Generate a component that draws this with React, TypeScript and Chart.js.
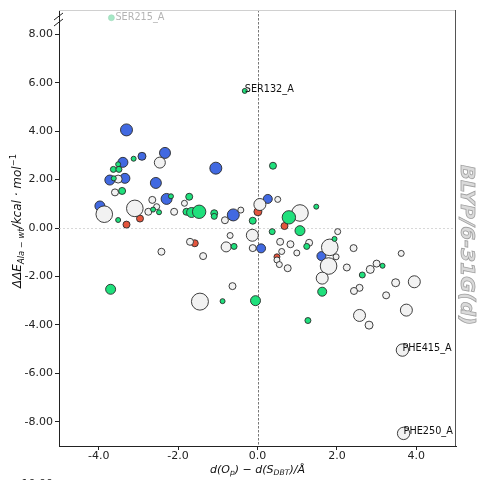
import React, { useEffect, useRef } from 'react';
import { Chart, registerables } from 'chart.js';

Chart.register(...registerables);

const FONT = '"DejaVu Sans", sans-serif';

// Axes
const xRange = [-5, 5];
const yRange = [-9, 9];
const xTicks = [-4, -2, 0, 2, 4];
const yTicks = [-8, -6, -4, -2, 0, 2, 4, 6, 8];

// Residues by class: x = d(Op) - d(S_DBT) in Å, y = ΔΔE in kcal/mol, w = bubble weight
const blueX = [-3.30, -2.33, -2.91, -3.39, -3.72, -3.34, -2.56, -2.29, -3.97, -1.05, -0.61, 0.26, 0.09, 1.61];
const blueY = [4.05, 3.10, 2.96, 2.71, 1.98, 2.05, 1.86, 1.20, 0.91, 2.47, 0.54, 1.20, -0.84, -1.16];
const blueW = [6, 5.5, 4, 5, 5, 5, 5.5, 5.5, 5, 6, 6, 4.5, 4.5, 4.5];

const redX = [-3.30, -2.96, -1.58, 0.01, 0.68, 0.49];
const redY = [0.14, 0.39, -0.63, 0.67, 0.08, -1.19];
const redW = [3.5, 3.5, 3.5, 4, 3.5, 3];

const greenX = [-3.12, -3.51, -3.63, -3.49, -3.62, -3.41, -2.18, -2.63, -2.48, -3.51,
  -1.72, -1.79, -1.66, -1.47, -1.09, -1.09, -0.12, 0.39, 0.37, -0.59,
  -3.70, -0.88, -0.05, 0.79, 1.07, 1.48, 1.24, 1.94, 2.64, 3.15, 1.63, 1.27];
const greenY = [2.86, 2.63, 2.42, 2.42, 2.05, 1.53, 1.31, 0.76, 0.65, 0.33,
  1.29, 0.67, 0.64, 0.67, 0.61, 0.48, 0.30, 2.57, -0.15, -0.76,
  -2.53, -3.02, -3.00, 0.44, -0.11, 0.88, -0.76, -0.45, -1.94, -1.56, -2.63, -3.82];
const greenW = [2.5, 2.5, 3, 3, 2.5, 3.5, 2.5, 2.5, 2.5, 2.5,
  3.5, 3.5, 5, 6.7, 3.5, 3, 3.5, 3.5, 3, 3,
  5, 2.5, 5, 6.7, 5, 2.5, 3, 2.5, 3, 2.5, 4.5, 3];

const whiteX = [-2.46, -3.51, -3.59, -2.65, -3.09, -2.75, -2.54, -2.10, -3.86, -1.84,
  -0.82, -0.42, 0.06, 0.51, -1.70, -2.42, -1.37, -0.69, -0.79, -0.13,
  -0.12, -0.63, -1.45, 1.07, 2.02, 0.57, 0.83, 1.30, 1.82, 2.42,
  0.61, 0.49, 0.55, 0.99, 1.98, 1.79, 0.76, 2.25, 2.84, 3.00,
  3.62, 1.63, 2.57, 2.43, 3.48, 3.95, 3.24, 2.57, 2.81, 3.75];
const whiteY = [2.70, 2.02, 1.47, 1.16, 0.81, 0.67, 0.88, 0.67, 0.57, 1.02,
  0.32, 0.74, 0.97, 1.18, -0.57, -0.98, -1.16, -0.31, -0.78, -0.30,
  -0.83, -2.40, -3.04, 0.62, -0.15, -0.57, -0.67, -0.61, -0.80, -0.83,
  -0.97, -1.32, -1.51, -1.03, -1.19, -1.57, -1.66, -1.63, -1.71, -1.47,
  -1.05, -2.07, -2.47, -2.60, -2.26, -2.22, -2.78, -3.61, -4.01, -3.39];
const whiteW = [5.5, 4, 3.5, 3.5, 8.3, 3.5, 3, 3.5, 8.3, 3,
  3.5, 3, 6, 3, 3.5, 3.5, 3.5, 3, 5, 6,
  3.5, 3.5, 8.5, 8.3, 3, 3.5, 3.5, 3.5, 8.3, 3.5,
  3, 3, 3, 3, 3, 8.3, 3.5, 3.5, 4, 3.5,
  3, 6, 3.5, 3.5, 4, 6, 3.5, 6, 4, 6];

// Named residues
const labelledNames = ['SER132_A', 'PHE415_A', 'PHE250_A'];
const labelledX = [-0.32, 3.65, 3.68];
const labelledY = [5.66, -5.04, -8.48];
const labelledW = [2.5, 6.2, 6.2];
const labelledGroup = ['green', 'white', 'white'];

// Residue above the axis break, shown faded
const brokenNames = ['SER215_A'];
const brokenX = [-3.68];
const brokenY = [8.68];
const brokenW = [3];

const groupStyle: Record<string, { fill: string; order: number }> = {
  blue: { fill: '#4169e1', order: 3 },
  red: { fill: '#e4553d', order: 2 },
  white: { fill: '#f2f2f2', order: 1 },
  green: { fill: '#1fe07c', order: 0 },
};

const groupData: Record<string, [number[], number[], number[]]> = {
  blue: [blueX, blueY, blueW],
  red: [redX, redY, redW],
  white: [whiteX, whiteY, whiteW],
  green: [greenX, greenY, greenW],
};

const radius = (w: number) => w;

function points(xs: number[], ys: number[], ws: number[]) {
  return xs.map((x, i) => ({ x, y: ys[i], r: radius(ws[i]) }));
}

type Run = { t: string; s?: 'sub' | 'sup'; up?: boolean };

function runFont(r: Run, size: number) {
  const sz = r.s ? size * 0.7 : size;
  return `${r.up ? '' : 'italic '}${sz}px ${FONT}`;
}

function richWidth(ctx: CanvasRenderingContext2D, runs: Run[], size: number) {
  let w = 0;
  for (const r of runs) {
    ctx.font = runFont(r, size);
    w += ctx.measureText(r.t).width;
  }
  return w;
}

// Draws mixed text with sub/superscripts, centred on x, baseline at y
function drawRich(ctx: CanvasRenderingContext2D, runs: Run[], x: number, y: number, size: number) {
  const w = richWidth(ctx, runs, size);
  let cx = x - w / 2;
  ctx.textAlign = 'left';
  ctx.textBaseline = 'alphabetic';
  for (const r of runs) {
    ctx.font = runFont(r, size);
    const dy = r.s === 'sub' ? size * 0.22 : r.s === 'sup' ? -size * 0.42 : 0;
    ctx.fillText(r.t, cx, y + dy);
    cx += ctx.measureText(r.t).width;
  }
}

const xTitle: Run[] = [
  { t: 'd(O' }, { t: 'p', s: 'sub' }, { t: ')' }, { t: ' − ', up: true },
  { t: 'd(S' }, { t: 'DBT', s: 'sub' }, { t: ')/Å' },
];
const yTitle: Run[] = [
  { t: 'ΔΔE' }, { t: 'Ala − wt', s: 'sub' }, { t: '/kcal · mol' }, { t: '−1', s: 'sup', up: true },
];

const decor = {
  id: 'decor',
  beforeDatasetsDraw(chart: any) {
    const { ctx, chartArea: a, scales } = chart;
    const xs = scales.x;
    const ys = scales.y;
    ctx.save();
    ctx.lineWidth = 0.8;
    // y = 0 reference
    ctx.strokeStyle = '#cfcfcf';
    ctx.setLineDash([2, 2]);
    const y0 = Math.round(ys.getPixelForValue(0)) + 0.5;
    ctx.beginPath();
    ctx.moveTo(a.left, y0);
    ctx.lineTo(a.right, y0);
    ctx.stroke();
    // x = 0 reference
    ctx.strokeStyle = '#555';
    ctx.setLineDash([2.5, 1.5]);
    const x0 = Math.round(xs.getPixelForValue(0)) + 0.5;
    ctx.beginPath();
    ctx.moveTo(x0, a.top);
    ctx.lineTo(x0, a.bottom);
    ctx.stroke();
    ctx.setLineDash([]);
    // top and right frame
    ctx.lineWidth = 1;
    ctx.strokeStyle = '#d0d0d0';
    ctx.beginPath();
    ctx.moveTo(a.left, a.top + 0.5);
    ctx.lineTo(a.right, a.top + 0.5);
    ctx.stroke();
    ctx.strokeStyle = '#555';
    ctx.beginPath();
    ctx.moveTo(a.right - 0.5, a.top);
    ctx.lineTo(a.right - 0.5, a.bottom);
    ctx.stroke();
    ctx.restore();
  },
  afterDraw(chart: any) {
    const { ctx, chartArea: a, scales } = chart;
    const xs = scales.x;
    const ys = scales.y;
    ctx.save();

    // axis break marks
    ctx.strokeStyle = '#222';
    ctx.lineWidth = 1;
    ctx.beginPath();
    ctx.moveTo(a.left - 5, a.top + 10);
    ctx.lineTo(a.left + 4, a.top + 3);
    ctx.moveTo(a.left - 5, a.top + 16);
    ctx.lineTo(a.left + 4, a.top + 9);
    ctx.stroke();

    // residue names
    ctx.font = `9.7px ${FONT}`;
    ctx.textAlign = 'left';
    ctx.textBaseline = 'alphabetic';
    ctx.fillStyle = '#111';
    labelledNames.forEach((name, i) => {
      const px = xs.getPixelForValue(labelledX[i]);
      const py = ys.getPixelForValue(labelledY[i]);
      ctx.fillText(name, px, py + 1);
    });
    ctx.fillStyle = '#b4b4b4';
    brokenNames.forEach((name, i) => {
      const px = xs.getPixelForValue(brokenX[i]);
      const py = ys.getPixelForValue(brokenY[i]);
      ctx.fillText(name, px + 4, py + 2);
    });

    // lower axis label below the break
    ctx.fillStyle = '#222';
    ctx.font = `11px ${FONT}`;
    ctx.textAlign = 'right';
    ctx.textBaseline = 'middle';
    ctx.fillText('-10.00', a.left - 6, a.bottom + 38);

    // axis titles
    ctx.fillStyle = '#111';
    drawRich(ctx, xTitle, (a.left + a.right) / 2, 473, 11);
    ctx.save();
    ctx.translate(21, 221);
    ctx.rotate(-Math.PI / 2);
    drawRich(ctx, yTitle, 0, 0, 12);
    ctx.restore();

    // method tag on the right
    ctx.save();
    ctx.translate(466, 245);
    ctx.rotate(Math.PI / 2);
    ctx.font = `italic bold 20px ${FONT}`;
    ctx.textAlign = 'center';
    ctx.textBaseline = 'middle';
    ctx.fillStyle = '#dadada';
    ctx.fillText('BLYP/6-31G(d)', 0, 0);
    ctx.lineWidth = 0.8;
    ctx.strokeStyle = '#a0a0a0';
    ctx.strokeText('BLYP/6-31G(d)', 0, 0);
    ctx.restore();

    ctx.restore();
  },
};

export default function App() {
  const ref = useRef<HTMLCanvasElement>(null);

  useEffect(() => {
    const canvas = ref.current;
    if (!canvas) return;

    const datasets: any[] = Object.keys(groupStyle).map((g) => {
      const [gx, gy, gw] = groupData[g];
      const pts = points(gx, gy, gw);
      labelledGroup.forEach((lg, i) => {
        if (lg === g) pts.push({ x: labelledX[i], y: labelledY[i], r: radius(labelledW[i]) });
      });
      return {
        label: g,
        data: pts,
        backgroundColor: groupStyle[g].fill,
        borderColor: '#2a2a2a',
        borderWidth: 0.9,
        order: groupStyle[g].order,
      };
    });
    datasets.push({
      label: 'faded',
      data: points(brokenX, brokenY, brokenW),
      backgroundColor: '#a6e8c6',
      borderColor: '#9fd8bb',
      borderWidth: 0.6,
      order: -1,
    });

    const tickFont = { family: FONT, size: 11 };

    const chart = new Chart(canvas, {
      type: 'bubble',
      data: { datasets },
      options: {
        responsive: false,
        animation: false,
        events: [],
        layout: { padding: { left: 0, top: 10, right: 24, bottom: 0 }, autoPadding: false },
        plugins: { legend: { display: false }, tooltip: { enabled: false } },
        scales: {
          x: {
            type: 'linear',
            min: xRange[0],
            max: xRange[1],
            afterBuildTicks: (s: any) => { s.ticks = xTicks.map((v) => ({ value: v })); },
            afterFit: (s: any) => { s.height = 34; },
            ticks: {
              color: '#222',
              font: tickFont,
              padding: 0,
              maxRotation: 0,
              autoSkip: false,
              callback: (v: any) => Number(v).toFixed(1),
            },
            grid: { drawOnChartArea: false, drawTicks: true, tickLength: 4, color: '#222' },
            border: { display: true, color: '#222', width: 1 },
          },
          y: {
            type: 'linear',
            min: yRange[0],
            max: yRange[1],
            afterBuildTicks: (s: any) => { s.ticks = yTicks.map((v) => ({ value: v })); },
            afterFit: (s: any) => { s.width = 59; },
            ticks: {
              color: '#222',
              font: tickFont,
              padding: 2,
              autoSkip: false,
              callback: (v: any) => Number(v).toFixed(2),
            },
            grid: { drawOnChartArea: false, drawTicks: true, tickLength: 4, color: '#222' },
            border: { display: true, color: '#222', width: 1 },
          },
        },
      },
      plugins: [decor],
    });

    return () => chart.destroy();
  }, []);

  return (
    <div style={{ position: 'absolute', left: 0, top: 0, width: 480, height: 480, background: '#fff' }}>
      <canvas ref={ref} width={480} height={480} style={{ display: 'block', width: 480, height: 480 }} />
    </div>
  );
}
